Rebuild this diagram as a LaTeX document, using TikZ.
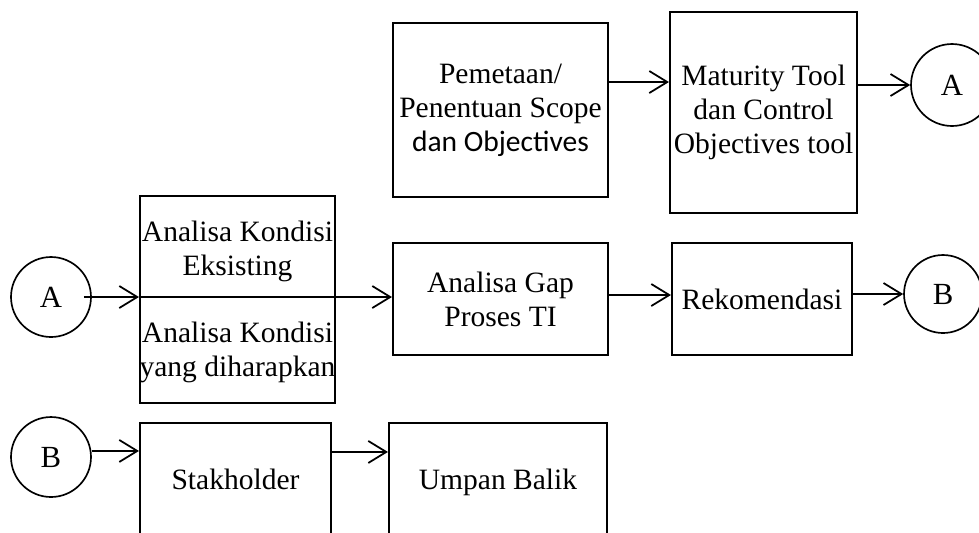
\documentclass[tikz,border=0pt]{standalone}
\usepackage{fontspec}
\setmainfont{Liberation Serif}
\newfontfamily\carlito{Carlito}
\usetikzlibrary{arrows.meta,calc}

\tikzset{
  kotak/.style={draw,line width=1.2pt,inner sep=0pt,align=center,font=\fontsize{16.8}{19.3}\selectfont},
  teks/.style={inner sep=0pt,align=center,font=\fontsize{16.8}{19.3}\selectfont},
  bulat/.style={draw,circle,line width=0.95pt,inner sep=0pt,font=\fontsize{17.5}{19.3}\selectfont},
  panah/.style={line width=1pt,-{Straight Barb[length=0.36cm,width=0.44cm,line width=1pt]}}
}

\begin{document}
\begin{tikzpicture}[x=0.02cm,y=-0.02cm]
                \clip(0,0)rectangle(979,532);
                % baris atas
                \node[kotak,minimum width=4.3cm,minimum height=3.48cm](pemetaan)at(500.5,110){Pemetaan/\\Penentuan Scope\\{\carlito dan Objectives}};
                \node[kotak,minimum width=3.74cm,minimum height=4.02cm](maturity)at(763.5,112.5){Maturity Tool\\dan Control\\Objectives tool};
                \node[bulat,minimum size=1.64cm](AKanan)at(952,85){A};
                % baris tengah
                \node[bulat,minimum size=1.6cm](AKiri)at(51,297){A};
                \node[kotak,minimum width=3.9cm,minimum height=4.14cm](kondisi)at(237.5,299.5){};
                \node[teks](eksisting)at(237.5,251){Analisa Kondisi\\Eksisting};
                \node[teks](harapan)at(237.5,352){Analisa Kondisi\\yang diharapkan};
                \node[kotak,minimum width=4.3cm,minimum height=2.24cm](gap)at(500.5,299){Analisa Gap\\Proses TI};
                \node[kotak,minimum width=3.6cm,minimum height=2.24cm](rekomendasi)at(762,299){Rekomendasi};
                \node[bulat,minimum size=1.56cm](BKanan)at(943,294){B};
                % baris bawah
                \node[bulat,minimum size=1.6cm](BKiri)at(51,457){B};
                \node[kotak,text depth=0.25em,minimum width=3.82cm,minimum height=2.34cm](stakholder)at(235.5,481.5){Stakholder};
                \node[kotak,text depth=0.25em,minimum width=4.36cm,minimum height=2.34cm](umpan)at(498,481.5){Umpan Balik};
                % panah
                \coordinate(P1)at([yshift=0.56cm]pemetaan.east);
                \draw[panah](P1)--(P1-|maturity.west);
                \draw[panah](maturity.east|-AKanan)--(AKanan);
                \coordinate(K1)at([xshift=-0.16cm]AKiri.east);
                \draw[panah](K1)--(K1-|kondisi.west);
                \draw[panah](K1-|kondisi.west)--(K1-|gap.west);
                \coordinate(G1)at([yshift=0.08cm]gap.east);
                \draw[panah](G1)--(G1-|rekomendasi.west);
                \draw[panah](rekomendasi.east|-BKanan)--(BKanan);
                \coordinate(S0)at([yshift=-0.58cm]stakholder.north west);
                \draw[panah](S0-|BKiri.east)--(S0);
                \coordinate(S1)at([yshift=-0.6cm]stakholder.north east);
                \draw[panah](S1)--(S1-|umpan.west);
            \end{tikzpicture}
\end{document}
